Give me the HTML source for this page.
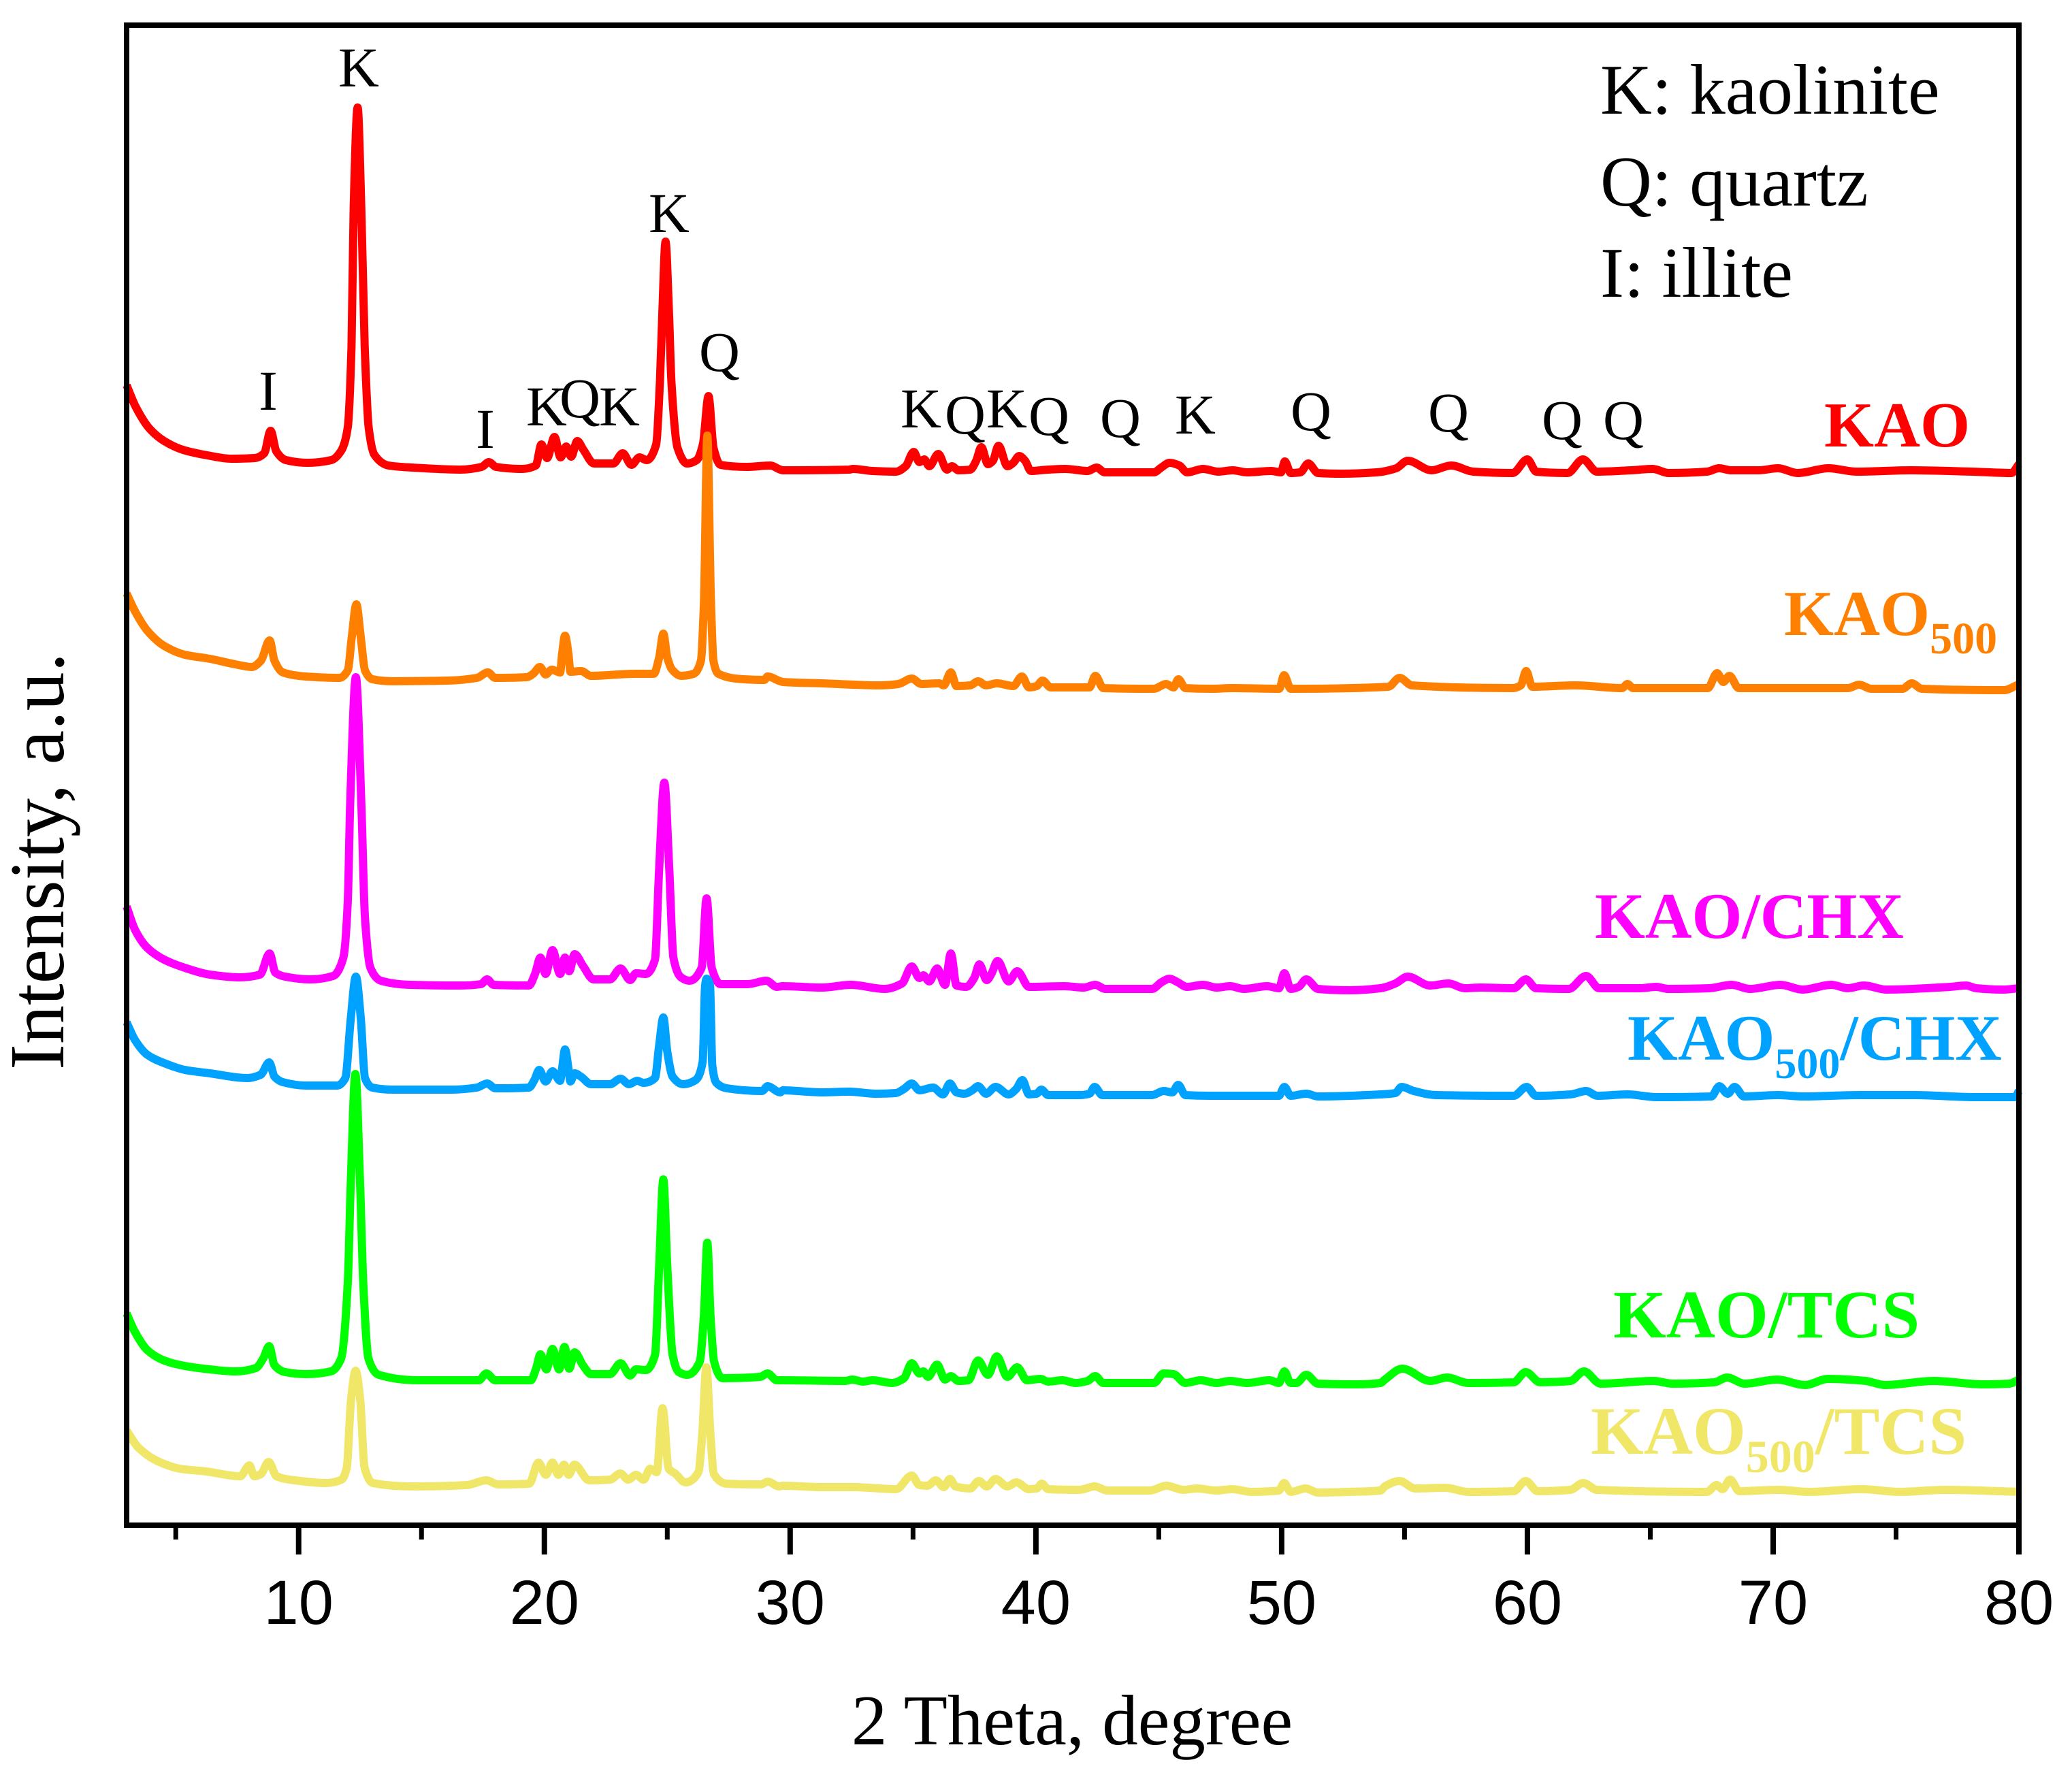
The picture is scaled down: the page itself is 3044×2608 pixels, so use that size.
<!DOCTYPE html>
<html lang="en">
<head>
<meta charset="utf-8">
<title>XRD patterns of KAO samples</title>
<style>
html,body{margin:0;padding:0;background:#fff;}
svg{display:block;}
.serif{font-family:"Liberation Serif",serif;}
.sans{font-family:"Liberation Sans",sans-serif;}
.peak{font-family:"Liberation Serif",serif;font-size:83px;fill:#000;text-anchor:middle;}
.legend{font-family:"Liberation Serif",serif;font-size:105px;fill:#000;}
.sample{font-family:"Liberation Serif",serif;font-weight:bold;}
</style>
</head>
<body>
<svg id="chart" xmlns="http://www.w3.org/2000/svg" width="3044" height="2608" viewBox="0 0 3044 2608">
<rect x="0" y="0" width="3044" height="2608" fill="#ffffff"/>
<g id="series"></g>
<rect x="186" y="37" width="2780" height="2204" fill="none" stroke="#000" stroke-width="8"/>
<g id="ticks"></g>
<g id="tickLabels"></g>

<text class="serif" x="1575" y="2563" font-size="105" text-anchor="middle">2 Theta, degree</text>
<text class="serif" transform="translate(93,1572) rotate(-90)" font-size="114" text-anchor="start">Intensity, a.u.</text>

<text class="peak" x="527" y="127">K</text>
<text class="peak" x="394" y="602">I</text>
<text class="peak" x="983" y="341">K</text>
<text class="peak" x="1057" y="545">Q</text>
<text class="peak" x="713" y="658">I</text>
<text class="peak" x="803" y="625">K</text>
<text class="peak" x="852" y="613">Q</text>
<text class="peak" x="910" y="625">K</text>
<text class="peak" x="1353" y="628">K</text>
<text class="peak" x="1418" y="637">Q</text>
<text class="peak" x="1479" y="628">K</text>
<text class="peak" x="1541" y="639">Q</text>
<text class="peak" x="1646" y="642">Q</text>
<text class="peak" x="1756" y="637">K</text>
<text class="peak" x="1926" y="632">Q</text>
<text class="peak" x="2128" y="634">Q</text>
<text class="peak" x="2295" y="645">Q</text>
<text class="peak" x="2385" y="645">Q</text>

<text class="legend" x="2351" y="167">K: kaolinite</text>
<text class="legend" x="2351" y="302">Q: quartz</text>
<text class="legend" x="2351" y="436">I: illite</text>

<text class="sample" x="2680" y="656" font-size="94" fill="#ff0000">KAO</text>
<text class="sample" x="2621" y="933" font-size="94" fill="#ff8000">KAO<tspan font-size="66" dy="27">500</tspan></text>
<text class="sample" x="2343" y="1378" font-size="95" fill="#ff00ff">KAO/CHX</text>
<text class="sample" x="2391" y="1557" font-size="95" fill="#00a2ff">KAO<tspan font-size="64" dy="27">500</tspan><tspan dy="-27">/CHX</tspan></text>
<text class="sample" x="2370" y="1965" font-size="100" fill="#00ff00">KAO/TCS</text>
<text class="sample" x="2337" y="2136" font-size="100" fill="#f0e668">KAO<tspan font-size="68" dy="27">500</tspan><tspan dy="-27">/TCS</tspan></text>
</svg>

<script>
const xTickValues = [5,10,15,20,25,30,35,40,45,50,55,60,65,70,75,80];
const xTickLabels = [10,20,30,40,50,60,70,80];

const kaoPoints = [[3,1675],[3.36,1644],[3.94,1611],[4.53,1593],[5.3,1580],[6.28,1572],[7.25,1567],[8.22,1568],[8.6,1575],[8.86,1608],[9.09,1578],[9.48,1565],[10.36,1561],[11.33,1565],[11.72,1578],[12,1613],[12.15,1731],[12.24,1935],[12.4,2083],[12.55,1935],[12.69,1731],[12.85,1613],[13.08,1573],[13.66,1557],[14.63,1554],[16.58,1551],[17.45,1555],[17.74,1562],[18.03,1555],[19.1,1552],[19.65,1557],[19.88,1588],[20.11,1568],[20.41,1599],[20.66,1569],[20.89,1585],[21.09,1570],[21.34,1593],[21.59,1580],[22.02,1560],[22.8,1560],[23.19,1575],[23.54,1558],[23.87,1569],[24.16,1565],[24.55,1588],[24.7,1680],[24.8,1782],[24.93,1886],[25.07,1782],[25.17,1680],[25.42,1583],[25.81,1560],[26.2,1565],[26.45,1588],[26.68,1659],[26.88,1583],[27.17,1558],[28.24,1555],[29.2,1557],[29.6,1551],[29.7,1550],[32.4,1551],[32.56,1552],[33.36,1549],[34.3,1548],[34.7,1556],[35.03,1577],[35.26,1562],[35.46,1566],[35.66,1556],[36.03,1574],[36.38,1551],[36.58,1556],[36.85,1550],[37.33,1551],[37.57,1564],[37.78,1584],[38.05,1559],[38.25,1564],[38.48,1586],[38.84,1556],[39.08,1561],[39.32,1571],[39.56,1564],[39.8,1549],[40.5,1551],[41.2,1552],[42.1,1549],[42.47,1554],[42.8,1547],[44.8,1547],[45.1,1554],[45.44,1561],[45.84,1557],[46.15,1547],[46.8,1552],[47.43,1548],[48,1550],[48.6,1547],[49.57,1549],[49.97,1547],[50.13,1563],[50.37,1546],[50.76,1547],[51.08,1560],[51.48,1546],[52.43,1545],[53.87,1547],[54.66,1553],[55.13,1564],[56.1,1550],[56.9,1557],[57.8,1548],[59.4,1546],[60,1566],[60.36,1548],[61.63,1546],[62.26,1566],[62.83,1548],[64.2,1550],[65.1,1552],[65.75,1546],[67.3,1548],[67.8,1553],[68.3,1550],[69.4,1550],[70.2,1553],[71,1546],[72.25,1553],[73.4,1548],[75.6,1550],[78.1,1548],[79.7,1546],[80,1559]];

const kao500Points = [[3,1369],[3.34,1343],[3.85,1314],[4.53,1292],[5.37,1279],[6.39,1273],[7.41,1265],[8.09,1261],[8.46,1270],[8.82,1300],[9.02,1270],[9.36,1253],[10.29,1247],[11.65,1245],[12,1256],[12.16,1304],[12.35,1353],[12.53,1304],[12.7,1256],[13,1243],[13.85,1240],[16.06,1241],[17.25,1245],[17.7,1253],[18,1245],[19.28,1246],[19.54,1251],[19.82,1261],[20.05,1250],[20.3,1257],[20.64,1253],[20.72,1280],[20.84,1307],[20.98,1280],[21.06,1254],[21.49,1255],[21.9,1248],[23.69,1251],[24.45,1251],[24.67,1275],[24.84,1310],[25,1275],[25.2,1257],[25.56,1248],[26.07,1251],[26.37,1270],[26.49,1353],[26.63,1601],[26.78,1353],[26.88,1270],[27.08,1251],[28.1,1243],[28.95,1242],[29.08,1247],[29.6,1240],[29.7,1239],[31.3,1237],[33.67,1234],[34.4,1236],[34.95,1244],[35.34,1236],[36.06,1237],[36.25,1234],[36.54,1253],[36.77,1233],[37.33,1234],[37.65,1240],[37.97,1234],[38.41,1237],[39.08,1233],[39.43,1247],[39.72,1231],[40.03,1233],[40.27,1241],[40.6,1231],[42.18,1231],[42.42,1248],[42.74,1230],[44.8,1229],[45.3,1236],[45.6,1231],[45.8,1243],[46.08,1230],[47.19,1229],[47.98,1230],[49.9,1229],[50.1,1249],[50.37,1229],[54.34,1232],[54.8,1245],[55.3,1234],[59.4,1230],[59.73,1234],[59.95,1255],[60.2,1232],[61.95,1234],[63.85,1230],[64.07,1236],[64.3,1230],[67.34,1230],[67.72,1252],[67.97,1239],[68.22,1248],[68.6,1230],[73.04,1230],[73.5,1235],[73.99,1229],[75.26,1229],[75.64,1237],[76.05,1229],[79.4,1227],[79.9,1234],[80,1236]];

const kaoChxPoints = [[3,909],[3.34,875],[3.85,848],[4.53,831],[5.37,819],[6.39,809],[7.58,805],[8.43,809],[8.82,840],[9.05,812],[9.45,806],[10.46,802],[11.4,807],[11.82,834],[12,916],[12.1,1062],[12.33,1246],[12.55,1062],[12.7,892],[12.92,819],[13.35,800],[14.53,794],[16.57,793],[17.42,795],[17.67,802],[17.93,794],[19.37,793],[19.62,810],[19.84,834],[20.05,810],[20.33,845],[20.64,810],[20.84,834],[21.01,814],[21.23,839],[21.57,822],[22,802],[22.67,802],[23.1,818],[23.49,801],[23.73,811],[24.12,810],[24.5,831],[24.67,965],[24.88,1091],[25.08,965],[25.25,834],[25.56,805],[25.9,800],[26.4,819],[26.6,921],[26.81,819],[27.17,795],[28.27,795],[29.03,800],[29.46,791],[29.7,792],[31.29,790],[32.48,794],[33.83,788],[34.55,796],[34.95,821],[35.26,804],[35.42,808],[35.66,799],[35.98,818],[36.3,794],[36.54,840],[36.77,793],[37.17,791],[37.49,804],[37.7,824],[38,801],[38.2,811],[38.44,829],[38.89,799],[39.24,814],[39.72,791],[41.15,792],[41.94,790],[42.42,794],[42.82,788],[44.72,788],[45.12,798],[45.44,803],[45.76,798],[46.15,791],[46.8,794],[47.35,790],[47.9,792],[48.46,788],[49.41,792],[49.89,789],[50.11,811],[50.37,788],[50.69,791],[51,802],[51.48,788],[52.75,786],[54.02,789],[54.63,796],[55.13,806],[56.04,793],[56.79,796],[57.45,789],[58.1,790],[59.44,789],[59.94,802],[60.35,789],[61.68,788],[62.39,807],[62.92,789],[64.58,789],[65.24,791],[65.74,788],[67.4,789],[68.31,794],[69.06,788],[70.3,794],[71.2,787],[72.37,794],[73.04,789],[73.7,793],[74.6,787],[77.2,791],[77.85,793],[78.26,789],[79.34,787],[80,789]];

const kao500ChxPoints = [[3,739],[3.34,713],[3.85,691],[4.53,679],[5.37,669],[6.39,664],[7.92,657],[8.46,662],[8.8,680],[9.02,659],[9.36,651],[10.29,646],[11.57,646],[11.9,657],[12.12,744],[12.33,806],[12.53,744],[12.7,657],[13,643],[13.85,640],[16.23,640],[17.25,643],[17.67,649],[18,642],[19.37,643],[19.59,654],[19.79,669],[20.05,652],[20.33,667],[20.64,653],[20.72,671],[20.84,699],[20.98,671],[21.06,652],[21.23,664],[21.49,659],[21.9,648],[22.67,648],[23.1,656],[23.44,648],[23.78,653],[24.03,650],[24.5,657],[24.67,705],[24.84,746],[25,696],[25.22,659],[25.64,648],[26.15,654],[26.44,681],[26.54,793],[26.6,803],[26.74,793],[26.83,676],[27,650],[27.42,642],[28.86,638],[29.08,645],[29.6,636],[29.7,639],[31.29,636],[32.4,637],[33.5,634],[34.3,635],[34.63,641],[34.95,649],[35.26,639],[35.82,643],[36.22,633],[36.5,649],[36.77,636],[37.09,634],[37.41,639],[37.65,645],[37.97,634],[38.36,644],[38.89,633],[39.2,641],[39.45,654],[39.72,633],[40.03,634],[40.22,640],[40.5,632],[41.78,632],[42.18,634],[42.39,644],[42.7,632],[44.72,632],[45.2,638],[45.55,636],[45.79,647],[46.08,632],[47.19,631],[49.89,631],[50.11,644],[50.37,631],[51,634],[51.48,630],[54.02,633],[54.63,635],[54.88,644],[55.38,638],[56.29,632],[59.44,631],[59.97,644],[60.35,631],[61.76,633],[62.39,638],[62.84,631],[64.08,633],[65.24,629],[67.48,630],[67.81,645],[68.15,634],[68.43,644],[68.81,630],[70.2,632],[71.2,630],[73.53,632],[75.77,632],[78.18,629],[79.84,629],[80,638]];

const kaoTcsPoints = [[3,311],[3.34,284],[3.85,257],[4.53,242],[5.37,234],[6.39,229],[7.41,226],[8.26,231],[8.56,245],[8.8,263],[9.02,235],[9.45,225],[10.29,222],[11.31,226],[11.73,245],[12,356],[12.12,502],[12.31,663],[12.5,502],[12.63,356],[12.84,245],[13.26,221],[14.87,213],[17.33,213],[17.64,223],[18,213],[19.45,213],[19.66,230],[19.84,251],[20.08,229],[20.33,259],[20.6,229],[20.82,262],[21.01,230],[21.23,254],[21.57,235],[21.9,222],[22.67,222],[23.1,238],[23.49,220],[23.73,229],[24.12,228],[24.5,250],[24.67,381],[24.84,508],[25,381],[25.22,250],[25.47,225],[25.81,221],[26.32,240],[26.49,308],[26.63,415],[26.76,308],[26.91,240],[27.25,216],[28.78,218],[29.08,223],[29.46,213],[29.7,213],[32.24,212],[32.53,214],[32.96,211],[33.36,213],[34.15,209],[34.63,216],[34.95,238],[35.26,223],[35.42,226],[35.61,218],[35.98,236],[36.3,214],[36.54,219],[36.85,212],[37.25,213],[37.65,242],[38.05,221],[38.41,248],[38.84,218],[39.24,232],[39.64,213],[40.19,215],[40.5,211],[41.07,213],[41.62,209],[42.1,212],[42.42,219],[42.74,209],[44.8,209],[45.2,223],[45.6,222],[46.08,209],[46.71,213],[47.35,209],[47.9,212],[48.6,209],[49.5,213],[49.89,209],[50.11,226],[50.37,209],[50.6,209],[51,221],[51.48,208],[53.07,207],[54.02,209],[54.2,214],[54.91,230],[56.05,212],[56.73,217],[57.59,209],[59.44,210],[59.93,225],[60.52,210],[61.75,212],[62.3,226],[62.98,208],[65.14,212],[65.91,208],[67.6,210],[68.13,217],[68.84,208],[70.16,214],[71.3,206],[72.23,215],[73.77,212],[74.54,206],[76.54,212],[78.54,207],[79.62,208],[80,214]];

const kao500TcsPoints = [[3,139],[3.48,114],[4.33,93],[5.18,83],[6.24,79],[7.62,72],[8,88],[8.19,72],[8.46,75],[8.78,93],[9.1,72],[9.84,66],[11.11,62],[11.75,67],[11.96,85],[12.13,183],[12.32,227],[12.51,183],[12.68,85],[13.02,62],[14.72,57],[16.84,59],[17.64,66],[18.11,60],[19.38,61],[19.76,92],[20.06,74],[20.33,92],[20.57,74],[20.8,89],[20.99,74],[21.22,89],[21.82,66],[22.67,67],[23.09,76],[23.41,67],[23.73,74],[24.04,67],[24.3,83],[24.57,78],[24.81,172],[25.06,83],[25.32,76],[25.74,63],[26.27,78],[26.42,132],[26.59,232],[26.76,132],[26.9,75],[27.43,61],[28.81,60],[29.09,64],[29.55,57],[29.7,58],[31.29,56],[32.56,56],[34.31,53],[34.95,73],[35.26,59],[35.58,58],[35.93,66],[36.25,56],[36.5,68],[36.73,57],[37.33,54],[37.68,65],[38,57],[38.36,68],[38.84,57],[39.2,63],[39.72,53],[40.03,54],[40.24,61],[40.5,53],[41.78,52],[42.39,57],[42.9,51],[44.64,51],[45.31,58],[46,52],[46.55,54],[47.35,51],[47.98,53],[48.78,49],[49.57,50],[49.89,51],[50.1,62],[50.37,49],[50.97,54],[51.48,48],[52.75,49],[54.02,51],[54.2,57],[54.8,65],[55.43,54],[56.66,55],[57.59,49],[59.44,50],[59.93,65],[60.42,50],[61.75,52],[62.27,62],[62.83,52],[67.3,49],[67.7,59],[67.94,53],[68.25,67],[68.62,50],[70.22,52],[71.45,49],[73.61,53],[75.15,49],[77,52],[80,49]];

const NS = 'http://www.w3.org/2000/svg';
const X_MIN = 3, X_MAX = 80, PX_LEFT = 186, PX_RIGHT = 2966;
const Y_MIN = 0, Y_MAX = 2204, PX_BOTTOM = 2241, PX_TOP = 37;

function xScale(v) { return PX_LEFT + (v - X_MIN) * (PX_RIGHT - PX_LEFT) / (X_MAX - X_MIN); }
function yScale(v) { return PX_BOTTOM - (v - Y_MIN) * (PX_BOTTOM - PX_TOP) / (Y_MAX - Y_MIN); }

function monotonePath(pts) {
  const n = pts.length;
  const xs = pts.map(function (p) { return xScale(p[0]); });
  const ys = pts.map(function (p) { return yScale(p[1]); });
  const slopes = [];
  for (let i = 0; i < n - 1; i++) slopes.push((ys[i + 1] - ys[i]) / (xs[i + 1] - xs[i]));
  const tang = [slopes[0]];
  for (let i = 1; i < n - 1; i++) {
    if (slopes[i - 1] * slopes[i] <= 0) { tang.push(0); continue; }
    const h0 = xs[i] - xs[i - 1], h1 = xs[i + 1] - xs[i];
    const w1 = 2 * h1 + h0, w2 = h1 + 2 * h0;
    tang.push((w1 + w2) / (w1 / slopes[i - 1] + w2 / slopes[i]));
  }
  tang.push(slopes[n - 2]);
  let d = 'M' + xs[0].toFixed(1) + ' ' + ys[0].toFixed(1);
  for (let i = 0; i < n - 1; i++) {
    const h = (xs[i + 1] - xs[i]) / 3;
    d += 'C' + (xs[i] + h).toFixed(1) + ' ' + (ys[i] + tang[i] * h).toFixed(1) + ' ' +
         (xs[i + 1] - h).toFixed(1) + ' ' + (ys[i + 1] - tang[i + 1] * h).toFixed(1) + ' ' +
         xs[i + 1].toFixed(1) + ' ' + ys[i + 1].toFixed(1);
  }
  return d;
}

const seriesGroup = document.getElementById('series');

function addSeries(points, color, name) {
  const path = document.createElementNS(NS, 'path');
  path.setAttribute('d', monotonePath(points));
  path.setAttribute('fill', 'none');
  path.setAttribute('stroke', color);
  path.setAttribute('stroke-width', '12');
  path.setAttribute('stroke-linejoin', 'round');
  path.setAttribute('stroke-linecap', 'butt');
  
  
  seriesGroup.appendChild(path);
}

addSeries(kaoPoints, '#ff0000', 'series-kao');
addSeries(kao500Points, '#ff8000', 'series-kao500');
addSeries(kaoChxPoints, '#ff00ff', 'series-kao-chx');
addSeries(kao500ChxPoints, '#00a2ff', 'series-kao500-chx');
addSeries(kaoTcsPoints, '#00ff00', 'series-kao-tcs');
addSeries(kao500TcsPoints, '#f0e668', 'series-kao500-tcs');

const tickGroup = document.getElementById('ticks');
xTickValues.forEach(function (v) {
  const major = v % 10 === 0;
  const line = document.createElementNS(NS, 'line');
  line.setAttribute('x1', xScale(v));
  line.setAttribute('x2', xScale(v));
  line.setAttribute('y1', PX_BOTTOM);
  line.setAttribute('y2', PX_BOTTOM + (major ? 43 : 21));
  line.setAttribute('stroke', '#000');
  line.setAttribute('stroke-width', major ? 8 : 7);
  
  
  tickGroup.appendChild(line);
});

const tickLabelGroup = document.getElementById('tickLabels');
xTickLabels.forEach(function (v) {
  const label = document.createElementNS(NS, 'text');
  label.setAttribute('x', xScale(v));
  label.setAttribute('y', 2386);
  label.setAttribute('font-size', 92);
  label.setAttribute('text-anchor', 'middle');
  label.setAttribute('class', 'sans');
  
  
  label.textContent = String(v);
  tickLabelGroup.appendChild(label);
});
</script>
</body>
</html>
